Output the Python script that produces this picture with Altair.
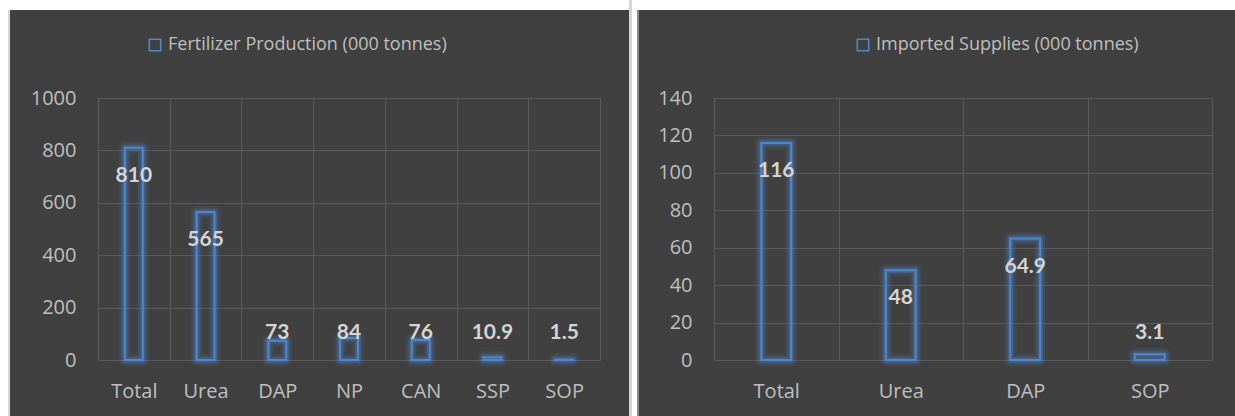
import altair as alt
import pandas as pd

# ---- data ----
prod_cats = ["Total", "Urea", "DAP", "NP", "CAN", "SSP", "SOP"]
prod_vals = [810, 565, 73, 84, 76, 10.9, 1.5]
prod_labels = ["810", "565", "73", "84", "76", "10.9", "1.5"]
prod_series = "Fertilizer Production (000 tonnes)"
prod_ticks = [0, 200, 400, 600, 800, 1000]

imp_cats = ["Total", "Urea", "DAP", "SOP"]
imp_vals = [116, 48, 64.9, 3.1]
imp_labels = ["116", "48", "64.9", "3.1"]
imp_series = "Imported Supplies (000 tonnes)"
imp_ticks = [0, 20, 40, 60, 80, 100, 120, 140]

# ---- style ----
BG = "#404040"
GRID = "#5a5a5a"
AX = "#bfbfbf"
LBL = "#d4d4d4"
BLUE = "#4f86cc"
FONT = "Open Sans"


def rect(x1, x2, y1, y2, color):
    return alt.Chart(pd.DataFrame({"k": [0]})).mark_rect(color=color, strokeWidth=0).encode(
        x=alt.value(x1), x2=alt.value(x2), y=alt.value(y1), y2=alt.value(y2)
    )


def panel(cats, vals, labels, series, ticks, width, band, off, floor, legend_x, decor):
    df = pd.DataFrame({"cat": cats, "value": vals, "label": labels, "series": [series] * len(cats)})
    xs = alt.Scale(paddingInner=0, paddingOuter=0)
    ys = alt.Scale(domain=[ticks[0], ticks[-1]], nice=False)
    xaxis = alt.Axis(title=None, labelAngle=0, grid=True, tickBand="extent", gridColor=GRID,
                     gridWidth=1, domain=False, ticks=False, tickSize=0, labelPadding=21,
                     labelFont=FONT, labelFontSize=20, labelColor=AX)
    yaxis = alt.Axis(title=None, values=ticks, format="d", grid=True, gridColor=GRID, gridWidth=1,
                     domain=False, ticks=False, tickSize=0, labelPadding=22,
                     labelFont=FONT, labelFontSize=20, labelColor=AX)
    x = alt.X("cat:N", sort=cats, scale=xs, axis=xaxis)
    y = alt.Y("value:Q", scale=ys, axis=yaxis)
    base = alt.Chart(df)
    glows = []
    for sw, op in [(13, 0.09), (9, 0.15), (5.5, 0.28)]:
        glows.append(
            base.mark_bar(width=alt.RelativeBandSize(band), fillOpacity=0, strokeWidth=sw,
                          strokeOpacity=op, strokeJoin="round").encode(x=x, y=y, stroke=alt.value(BLUE))
        )
    main = base.mark_bar(width=alt.RelativeBandSize(band), fill=BG, fillOpacity=0.0,
                         strokeWidth=2).encode(
        x=x, y=y,
        stroke=alt.Stroke(
            "series:N", scale=alt.Scale(range=[BLUE]),
            legend=alt.Legend(title=None, orient="none", legendX=legend_x, legendY=-62,
                              symbolType="square", symbolSize=130, symbolStrokeWidth=1.6,
                              symbolFillColor=BG, symbolStrokeColor=BLUE, symbolOpacity=1,
                              labelFont=FONT, labelFontSize=18, labelColor=AX, labelLimit=0,
                              labelOffset=4),
        ),
    )
    text = base.transform_calculate(ly=f"max(datum.value - {off}, {floor})").mark_text(
        font="Lato", fontWeight="bold", fontSize=21, color=LBL, baseline="middle"
    ).encode(
        x=alt.X("cat:N", sort=cats, scale=xs, axis=xaxis),
        y=alt.Y("ly:Q", scale=ys, axis=yaxis),
        text="label:N",
    )
    return alt.layer(*decor, *glows, main, text).properties(width=width, height=262)


left_decor = [
    rect(-98, 541, -98, -88, "#ffffff"),
    rect(-98, -90, -98, 318, "#ffffff"),
    rect(-90, -88, -88, 318, "#d6d6d6"),
    rect(531, 534, -98, 318, "#d6d6d6"),
    rect(534, 539, -98, 318, "#ffffff"),
    rect(539, 541, -88, 318, "#8a8a8a"),
]
right_decor = [
    rect(-75, 521, -98, -88, "#ffffff"),
]

left = panel(prod_cats, prod_vals, prod_labels, prod_series, prod_ticks, 502, 0.25,
             107, 103, 48, left_decor)
right = panel(imp_cats, imp_vals, imp_labels, imp_series, imp_ticks, 498, 0.24,
              15, 14.4, 140, right_decor)

chart = (
    alt.hconcat(left, right, spacing=0)
    .resolve_scale(x="independent", y="independent", stroke="independent")
    .resolve_legend(stroke="independent")
    .properties(background=BG, padding=0)
    .configure_view(strokeWidth=0)
)

chart.save("out.html", embed_options={"renderer": "svg", "actions": False})
